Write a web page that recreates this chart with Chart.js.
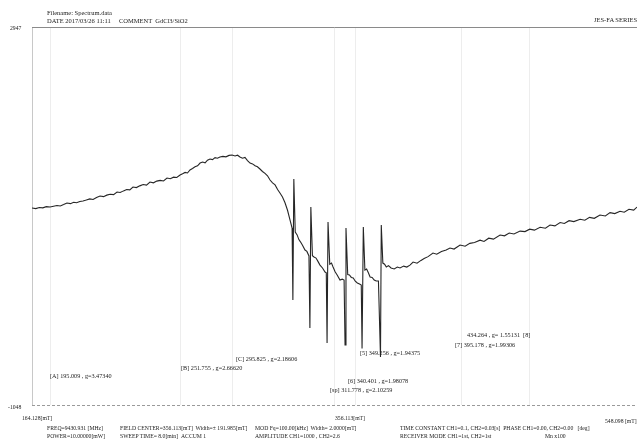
<!DOCTYPE html>
<html>
<head>
<meta charset="utf-8">
<script src="https://cdn.jsdelivr.net/npm/chart.js@4"></script>
<style>
  body { margin: 0; background: #fff; }
  #wrap { position: relative; width: 638px; height: 439px; overflow: hidden; }
  #wrap span { position: absolute; font-family: "Liberation Serif", serif; font-size: 5.7px; color: #222; white-space: pre; line-height: 6px; }
  #wrap span.hd { font-size: 6.5px; }
  #wrap span.pk { font-size: 6.2px; }
</style>
</head>
<body>
<div id="wrap">
  <canvas id="esr" width="638" height="439"></canvas>

  <span class="hd" style="left:47px;top:10px">Filename: Spectrum.data</span>
  <span class="hd" style="left:47px;top:18px">DATE 2017/03/26 11:11     COMMENT  GdCl3/SiO2</span>
  <span class="hd" style="left:594px;top:17px">JES-FA SERIES</span>

  <span style="left:10px;top:25px">2947</span>
  <span style="left:8px;top:404px">-1048</span>
  <span style="left:22px;top:415px">164.128[mT]</span>
  <span style="left:335px;top:415px">356.113[mT]</span>
  <span style="left:605px;top:418px">548.098 [mT]</span>

  <span class="pk" style="left:50px;top:373px">[A] 195.009 , g=3.47340</span>
  <span class="pk" style="left:181px;top:365px">[B] 251.755 , g=2.66620</span>
  <span class="pk" style="left:236px;top:356px">[C] 295.825 , g=2.18606</span>
  <span class="pk" style="left:360px;top:350px">[5] 349.256 , g=1.94375</span>
  <span class="pk" style="left:348px;top:378px">[6] 340.401 , g=1.98078</span>
  <span class="pk" style="left:330px;top:387px">[sp] 311.778 , g=2.10259</span>
  <span class="pk" style="left:467px;top:332px">434.264 , g= 1.55131  [8]</span>
  <span class="pk" style="left:455px;top:342px">[7] 395.178 , g=1.99306</span>

  <span style="left:47px;top:425px">FREQ=9430.931 [MHz]</span>
  <span style="left:120px;top:425px">FIELD CENTER=356.113[mT]  Width=± 191.985[mT]</span>
  <span style="left:255px;top:425px">MOD Fq=100.00[kHz]  Width= 2.0000[mT]</span>
  <span style="left:400px;top:425px">TIME CONSTANT CH1=0.1, CH2=0.03[s]  PHASE CH1=0.00, CH2=0.00   [deg]</span>
  <span style="left:47px;top:433px">POWER=10.00000[mW]</span>
  <span style="left:120px;top:433px">SWEEP TIME= 8.0[min]</span>
  <span style="left:181px;top:433px">ACCUM 1</span>
  <span style="left:255px;top:433px">AMPLITUDE CH1=1000 , CH2=2.6</span>
  <span style="left:400px;top:433px">RECEIVER MODE CH1=1st, CH2=1st</span>
  <span style="left:545px;top:433px">Mn x100</span>
</div>

<script>
// magnetic field [mT] and signal intensity
const fieldMT = [
  164.1, 166.5, 168.8, 171.0, 173.2, 175.6, 177.8, 180.0, 182.1, 184.2,
  186.3, 188.5, 190.6, 192.4, 194.5, 196.5, 198.6, 200.8, 202.9, 205.1,
  207.3, 209.5, 211.6, 213.7, 215.9, 218.1, 220.1, 222.2, 224.2, 226.2,
  228.2, 230.4, 232.5, 234.7, 236.8, 239.0, 241.2, 243.3, 245.5, 247.6,
  249.8, 251.9, 254.0, 256.0, 258.1, 259.7, 261.3, 262.8, 264.4, 266.0,
  267.6, 269.2, 270.8, 272.4, 274.0, 275.5, 277.1, 278.7, 280.3, 281.8,
  283.4, 285.3, 287.2, 289.2, 291.1, 293.0, 294.6, 296.1, 297.7, 299.3,
  300.9, 302.5, 304.1, 305.7, 307.2, 308.8, 310.4, 312.0, 313.6, 315.2,
  316.8, 318.4, 320.0, 321.5, 323.1, 324.7, 326.3, 327.9, 329.2, 329.7,
  330.3, 331.2, 332.4, 333.5, 334.6, 335.8, 337.4, 338.6, 339.9, 340.5,
  341.1, 342.1, 343.1, 344.4, 345.6, 346.9, 348.5, 350.1, 350.9, 351.4,
  352.0, 353.1, 354.2, 355.2, 356.5, 357.8, 359.6, 361.0, 362.2, 362.8,
  363.4, 364.5, 365.6, 366.8, 368.0, 369.3, 370.6, 372.0, 373.1, 373.6,
  374.4, 375.4, 376.5, 377.6, 378.7, 380.0, 381.3, 382.6, 384.0, 385.3,
  385.8, 386.8, 387.9, 389.0, 390.4, 392.0, 394.0, 396.0, 397.7, 400.0,
  402.0, 404.0, 406.0, 408.5, 411.0, 413.0, 415.5, 418.6, 421.0, 424.0,
  427.0, 429.4, 432.0, 435.8, 439.0, 442.0, 445.0, 448.5, 451.0, 454.0,
  457.0, 461.2, 464.0, 467.0, 470.0, 473.9, 477.0, 480.0, 483.0, 486.6,
  490.0, 492.9, 496.0, 499.3, 502.0, 505.0, 508.0, 512.0, 515.0, 518.0,
  521.0, 524.6, 528.0, 531.0, 534.0, 537.3, 540.0, 543.0, 546.0, 548.1
];
const intensity = [
  1034, 1028, 1040, 1036, 1048, 1044, 1052, 1060, 1055, 1070,
  1087, 1080, 1094, 1090, 1102, 1108, 1118, 1130, 1124, 1146,
  1161, 1154, 1170, 1180, 1176, 1203, 1198, 1215, 1230, 1226,
  1256, 1250, 1268, 1282, 1276, 1309, 1300, 1318, 1326, 1320,
  1351, 1344, 1360, 1356, 1383, 1396, 1410, 1404, 1436, 1452,
  1470, 1480, 1509, 1520, 1512, 1540, 1552, 1545, 1566, 1560,
  1573, 1580, 1575, 1590, 1594, 1584, 1592, 1573, 1560, 1568,
  1535, 1509, 1500, 1480, 1470, 1446, 1420, 1400, 1375, 1330,
  1300, 1278, 1230, 1192, 1150, 1090, 1010, 907, 822, 61,
  1340, 780, 750, 700, 674, 640, 590, 575, 527, -235,
  1044, 530, 516, 505, 470, 431, 400, 357, 350, -393,
  886, 440, 452, 410, 360, 326, 273, 282, 273, -414,
  822, 330, 326, 300, 294, 260, 241, 230, 220, -450,
  832, 378, 390, 350, 304, 300, 273, 262, 262, -541,
  854, 452, 440, 410, 425, 400, 390, 410, 400, 420,
  410, 430, 463, 450, 480, 500, 520, 558, 545, 575,
  590, 611, 600, 643, 630, 660, 670, 694, 680, 715,
  705, 749, 740, 770, 760, 790, 785, 810, 800, 830,
  820, 854, 845, 880, 870, 900, 890, 915, 905, 935,
  925, 960, 950, 985, 975, 1000, 990, 1020, 1012, 1044
];

const fieldMin = 164.128;
const fieldMax = 548.098;
const yMin = -1048;
const yMax = 2947;

// faint folds/rulings visible on the printout
const faintLinesMT = [175.6, 258.1, 291.1, 355.8, 369.1, 436.5, 479.6];

const framePlugin = {
  id: 'frame',
  beforeDatasetsDraw(chart) {
    const { ctx, chartArea: a, scales } = chart;
    ctx.save();
    ctx.strokeStyle = 'rgba(0,0,0,0.07)';
    ctx.lineWidth = 1;
    faintLinesMT.forEach(v => {
      const x = Math.round(scales.x.getPixelForValue(v)) + 0.5;
      ctx.beginPath();
      ctx.moveTo(x, a.top);
      ctx.lineTo(x, a.bottom);
      ctx.stroke();
    });
    // left edge
    ctx.strokeStyle = '#c8c8c8';
    ctx.beginPath();
    ctx.moveTo(a.left + 0.5, a.top);
    ctx.lineTo(a.left + 0.5, a.bottom);
    ctx.stroke();
    // top edge
    ctx.strokeStyle = '#8a8a8a';
    ctx.beginPath();
    ctx.moveTo(a.left, a.top + 0.5);
    ctx.lineTo(a.right, a.top + 0.5);
    ctx.stroke();
    // bottom dashed
    ctx.strokeStyle = '#9a9a9a';
    ctx.setLineDash([3, 2]);
    ctx.beginPath();
    ctx.moveTo(a.left, a.bottom + 0.5);
    ctx.lineTo(a.right, a.bottom + 0.5);
    ctx.stroke();
    ctx.restore();
  }
};

new Chart(document.getElementById('esr'), {
  type: 'line',
  data: {
    datasets: [{
      data: fieldMT.map((f, i) => ({ x: f, y: intensity[i] })),
      borderColor: '#262626',
      borderWidth: 1.1,
      pointRadius: 0,
      tension: 0,
      fill: false
    }]
  },
  options: {
    responsive: false,
    animation: false,
    devicePixelRatio: 1,
    layout: { padding: { left: 32, right: 1, top: 27, bottom: 34 } },
    plugins: { legend: { display: false }, tooltip: { enabled: false } },
    scales: {
      x: { type: 'linear', min: fieldMin, max: fieldMax, display: false },
      y: { min: yMin, max: yMax, display: false }
    }
  },
  plugins: [framePlugin]
});
</script>
</body>
</html>
